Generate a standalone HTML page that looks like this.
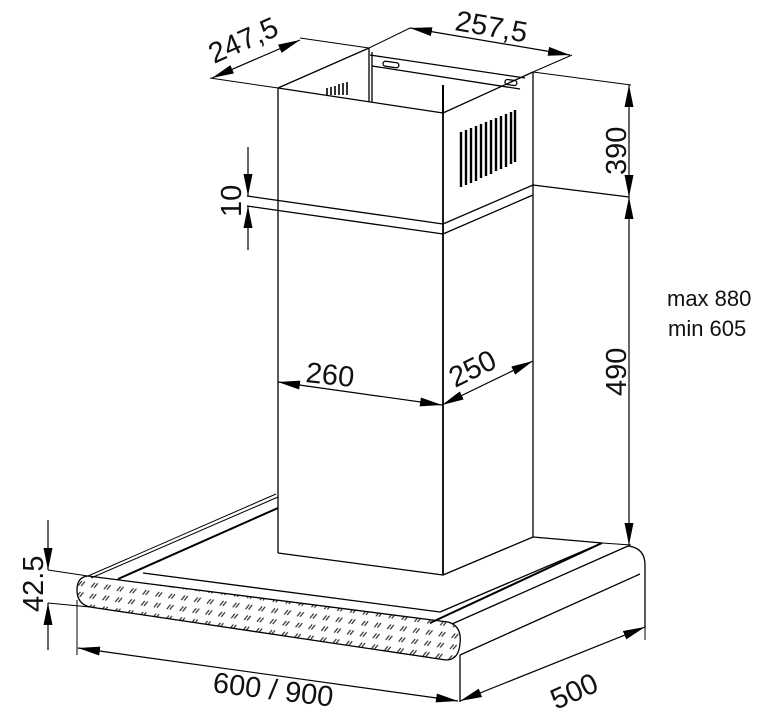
<!DOCTYPE html>
<html><head><meta charset="utf-8"><style>
html,body{margin:0;padding:0;background:#fff;}
svg{display:block;}
text{font-family:"Liberation Sans",Arial,sans-serif;fill:#111;}
</style></head><body>
<svg width="769" height="724" viewBox="0 0 769 724" xmlns="http://www.w3.org/2000/svg">
<defs>
<marker id="a" viewBox="0 0 22 9" refX="22" refY="4.5" markerWidth="22" markerHeight="9" markerUnits="userSpaceOnUse" orient="auto-start-reverse"><path d="M0,0 L22,4.5 L0,9 z" fill="#000"/></marker>
<pattern id="dots" width="13" height="11" patternUnits="userSpaceOnUse" patternTransform="rotate(8)">
<path d="M3,8 L6,3 M6,8 L9,3" stroke="#222" stroke-width="1.2"/>
</pattern>
</defs>
<g fill="none" stroke="#000" stroke-width="1.3" stroke-linejoin="round">
<path d="M278,88 L369,48"/>
<path d="M278,88 L443,113 L533,72"/>
<path d="M369,48 V102 M372,52 V102"/>
<path d="M370,55 L525,78 M372,66 L520,89"/>
<rect x="383" y="62" width="16" height="5" rx="2.5" transform="rotate(8 391 64)"/>
<rect x="505" y="80" width="12" height="5" rx="2.5" transform="rotate(8 511 82)"/>
<path d="M443,85 V113" stroke-width="2"/>
<path d="M278,88 V553"/>
<path d="M443,113 V575" stroke-width="1.8"/>
<path d="M533,72 V537"/>
<path d="M247,196 L443,224 L533,185 M533,185 L629,197"/>
<path d="M247,206 L443,234 L533,195"/>
<g stroke-width="2.4">
<path d="M461,132 V187 M466,130 V185 M471,128 V183 M476,126 V181 M481,124 V178 M486,122 V176 M491,120 V174 M496,118 V171 M501,116 V169 M506,114 V167 M511,112 V164 M515,110 V162"/>
</g>
<g stroke-width="1.6"><path d="M327,95 V88 M331,95 V87 M335,95 V86 M339,95 V84 M343,95 V83 M347,95 V82"/></g>
<path d="M278,553 L443,575 L533,537 L602,543"/>
<path d="M88,576 L276,494 M91,578 L278,497" stroke-width="1"/>
<path d="M118,579 L278,508" stroke-width="2"/>
<path d="M143,573 L440,612 L602,543" stroke-width="1.3"/>
<path d="M430,623 L602,543" stroke-width="2"/>
<path d="M452,624 L628,546"/>
<path d="M460,655 L640,574"/>
<path d="M628,546 Q645,548 645,565 V628"/>
<path d="M88,576 L448,622 Q462,626 460,643 Q459,660 446,660 L90,607 Q77,604 77,590 Q77,577 88,576 Z" fill="url(#dots)"/>
<path d="M460,655 V702"/>
<path d="M278,88 L210,78 M369,48 L300,38" stroke-width="1"/>
<path d="M369,48 L410,28 M533,72 L572,55" stroke-width="1"/>
<path d="M533,72 L631,85" stroke-width="1"/>
<path d="M602,543 L631,545" stroke-width="1"/>
<path d="M48,570 L88,576 M48,603 L90,607" stroke-width="1"/>
<path d="M77,600 V655" stroke-width="1"/>
<path d="M645,628 V640" stroke-width="1"/>
</g>
<g stroke="#000" stroke-width="1.2" fill="none">
<line x1="212" y1="78" x2="300" y2="40" marker-start="url(#a)" marker-end="url(#a)"/>
<line x1="410" y1="28" x2="570" y2="55" marker-start="url(#a)" marker-end="url(#a)"/>
<line x1="629" y1="85" x2="629" y2="197" marker-start="url(#a)" marker-end="url(#a)"/>
<line x1="629" y1="197" x2="629" y2="545" marker-start="url(#a)" marker-end="url(#a)"/>
<line x1="248" y1="147" x2="248" y2="196" marker-end="url(#a)"/>
<line x1="248" y1="250" x2="248" y2="206" marker-end="url(#a)"/>
<line x1="48" y1="520" x2="48" y2="570" marker-end="url(#a)"/>
<line x1="48" y1="650" x2="48" y2="603" marker-end="url(#a)"/>
<line x1="278" y1="382" x2="442" y2="405" marker-start="url(#a)" marker-end="url(#a)"/>
<line x1="442" y1="405" x2="533" y2="361" marker-start="url(#a)" marker-end="url(#a)"/>
<line x1="78" y1="648" x2="458" y2="701" marker-start="url(#a)" marker-end="url(#a)"/>
<line x1="460" y1="701" x2="645" y2="627" marker-start="url(#a)" marker-end="url(#a)"/>
</g>
<g font-size="29">
<text transform="translate(214,64) rotate(-24)">247,5</text>
<text transform="translate(454,30) rotate(10)">257,5</text>
<text transform="translate(626,175) rotate(-90)">390</text>
<text transform="translate(626,396) rotate(-90)">490</text>
<text transform="translate(241,217) rotate(-90)">10</text>
<text transform="translate(43,612) rotate(-90)">42.5</text>
<text transform="translate(305,382) rotate(6)">260</text>
<text transform="translate(455,388) rotate(-26)">250</text>
<text transform="translate(212,692) rotate(7)">600 / 900</text>
<text transform="translate(556,710) rotate(-24)">500</text>
</g>
<text x="667" y="306" font-size="22">max 880</text>
<text x="668" y="336" font-size="22">min 605</text>
</svg>
</body></html>
